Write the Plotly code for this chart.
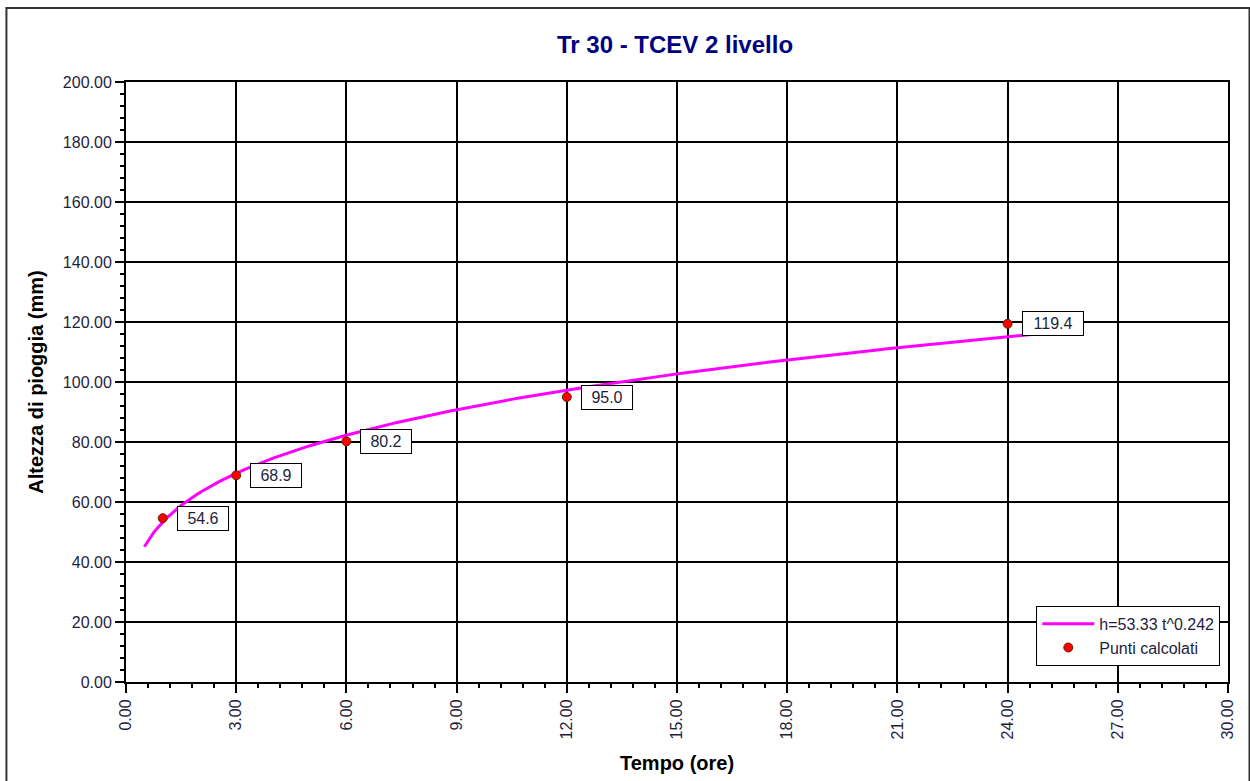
import numpy as np
import plotly.graph_objects as go

# Durations (hours) and computed rainfall depths (mm)
durations = [1, 3, 6, 12, 24]
depths = [54.6, 68.9, 80.2, 95.0, 119.4]
depth_labels = ["54.6", "68.9", "80.2", "95.0", "119.4"]

# Fitted depth-duration curve h = a * t^n
coef_a = 53.33
coef_n = 0.242
curve_t_start = 0.5
curve_t_end = 25.0

x_ticks = [0, 3, 6, 9, 12, 15, 18, 21, 24, 27, 30]
y_ticks = [0, 20, 40, 60, 80, 100, 120, 140, 160, 180, 200]

FONT = "Liberation Sans, Arial, sans-serif"
TICK_COLOR = "#1e1e3c"

t_curve = np.linspace(curve_t_start, curve_t_end, 300)
h_curve = coef_a * t_curve ** coef_n

fig = go.Figure()
fig.add_trace(go.Scatter(
    x=t_curve, y=h_curve, mode="lines",
    line=dict(color="#FF00FF", width=3),
    name=f"h={coef_a:.2f} t^{coef_n:.3f}",
))
fig.add_trace(go.Scatter(
    x=durations, y=depths, mode="markers",
    marker=dict(color="#FF0000", size=9, line=dict(color="#5a2a00", width=1)),
    name="Punti calcolati",
))

for t, h, lab in zip(durations, depths, depth_labels):
    fig.add_annotation(
        x=t, y=h, text=lab, showarrow=False,
        xanchor="left", yanchor="middle", xshift=14,
        width=50 if len(lab) < 5 else 60, height=23, align="center",
        font=dict(family=FONT, size=16, color="#1e1e3c"),
        bgcolor="white", bordercolor="black", borderwidth=1, borderpad=0,
    )

# X axis title placed below the rotated tick labels
fig.add_annotation(
    x=0.5, y=-0.135, xref="paper", yref="paper", showarrow=False,
    text="<b>Tempo (ore)</b>", xanchor="center", yanchor="middle",
    font=dict(family=FONT, size=20, color="black"),
)

axis_common = dict(
    showgrid=True, gridcolor="black", gridwidth=1.5,
    showline=True, linecolor="black", linewidth=2, mirror=True,
    ticks="outside", ticklen=9, tickwidth=1.5, tickcolor="black",
    tickfont=dict(family=FONT, size=16, color=TICK_COLOR),
    zeroline=False, automargin=False,
)

fig.update_xaxes(
    range=[0, 30], tickvals=x_ticks,
    ticktext=[f"{v:.2f}" for v in x_ticks], tickangle=-90,
    minor=dict(dtick=0.6, ticks="outside", ticklen=4, tickcolor="black", tickwidth=1.5, showgrid=False),
    **axis_common,
)
fig.update_yaxes(
    range=[0, 200], tickvals=y_ticks,
    ticktext=[f"{v:.2f}" for v in y_ticks],
    title=dict(text="<b>Altezza di pioggia (mm)</b>", font=dict(family=FONT, size=20, color="black"), standoff=14),
    minor=dict(dtick=4, ticks="outside", ticklen=4, tickcolor="black", tickwidth=1.5, showgrid=False),
    **axis_common,
)

# Outer frame around the whole chart
fig.add_shape(
    type="rect", xref="paper", yref="paper",
    x0=-0.1085, x1=1.0195, y0=-0.25, y1=1.1233,
    line=dict(color="#333333", width=2), fillcolor="rgba(0,0,0,0)", layer="below",
)

fig.update_layout(
    width=1250, height=781,
    margin=dict(l=126, r=22, t=82, b=99, autoexpand=False),
    paper_bgcolor="white", plot_bgcolor="white",
    title=dict(
        text="<b>Tr 30 - TCEV 2 livello</b>",
        font=dict(family=FONT, size=24, color="#000080"),
        x=675 / 1250, xanchor="center", y=1 - 45 / 781, yanchor="middle",
    ),
    showlegend=True,
    legend=dict(
        x=0.993, y=0.027, xanchor="right", yanchor="bottom",
        bgcolor="white", bordercolor="black", borderwidth=1,
        font=dict(family=FONT, size=16, color="#1e1e3c"),
        itemwidth=52, tracegroupgap=0,
    ),
)

fig.write_html("out.html")
